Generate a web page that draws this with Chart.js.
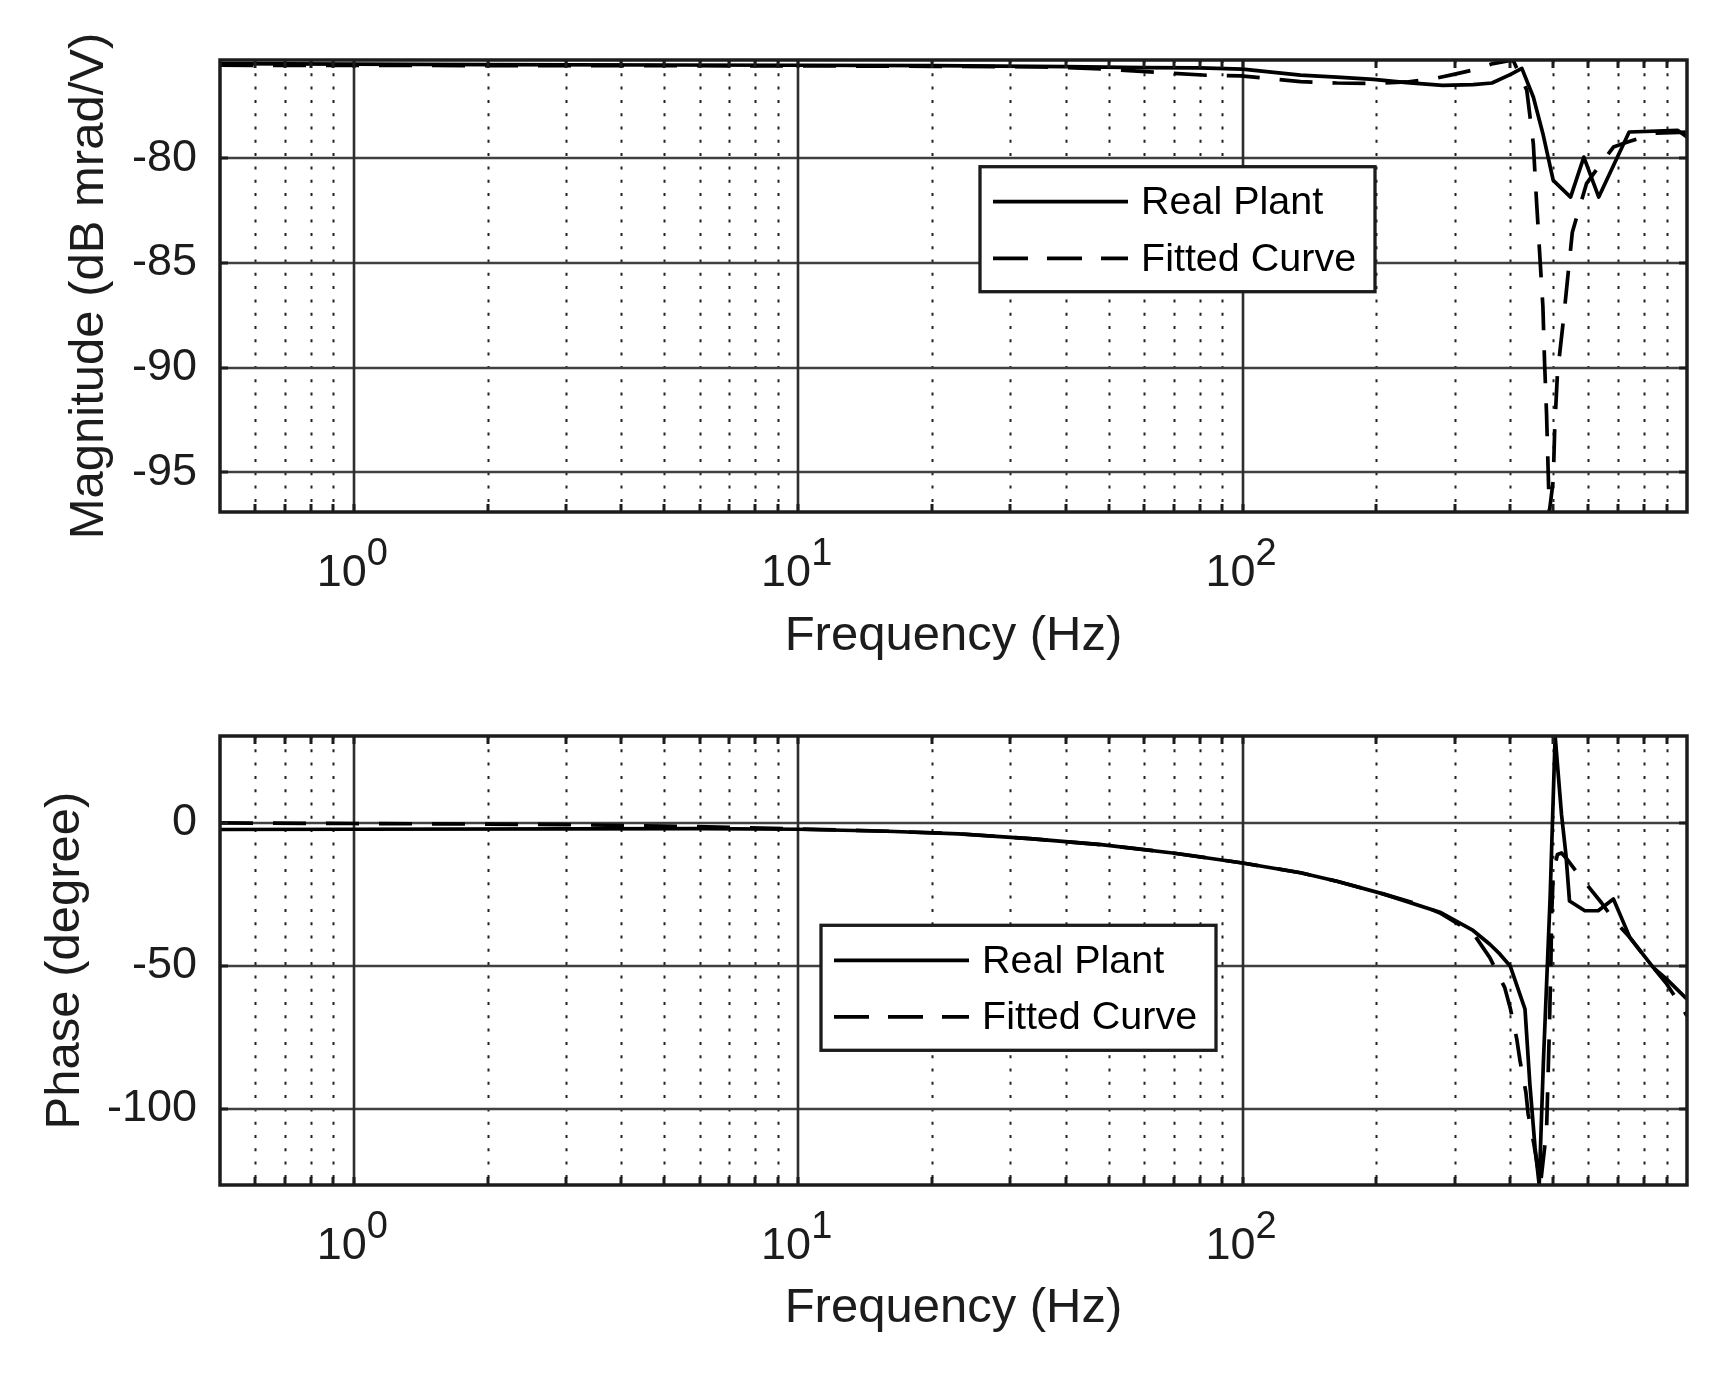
<!DOCTYPE html>
<html><head><meta charset="utf-8">
<script src="https://cdn.jsdelivr.net/npm/chart.js@4.4.1/dist/chart.umd.min.js"></script>
<style>
html,body{margin:0;padding:0;background:#fff;}
body{width:1717px;height:1377px;position:relative;overflow:hidden;}
canvas{position:absolute;left:0;}
#c1{top:0;} #c2{top:670px;}
</style></head><body>
<canvas id="c1" width="1717" height="670"></canvas>
<canvas id="c2" width="1717" height="707"></canvas>
<script>
// ---------- DATA ----------
const seriesNames = ['Real Plant', 'Fitted Curve'];

const magFreqReal = [0.5, 1, 2, 5, 10, 20, 40, 60, 80, 100, 135, 163, 197, 234, 282, 330, 364, 400, 425, 451, 474, 500, 547, 586, 633, 741, 952, 1000];
const magReal     = [-75.47, -75.5, -75.52, -75.54, -75.55, -75.57, -75.62, -75.66, -75.68, -75.74, -76.02, -76.12, -76.23, -76.38, -76.51, -76.48, -76.4, -76.0, -75.7, -77.07, -78.82, -81.05, -81.85, -79.94, -81.85, -78.74, -78.66, -78.98];

const magFreqFit = [0.5, 1, 3, 10, 20, 35, 48, 64, 83, 99, 135, 163, 197, 234, 268, 297, 330, 366, 406, 436, 451, 458, 466, 474, 478, 483, 490, 500, 504, 511, 527, 552, 594, 636, 683, 735, 850, 1000];
const magFit     = [-75.55, -75.56, -75.57, -75.58, -75.6, -75.63, -75.72, -75.89, -76.03, -76.06, -76.33, -76.4, -76.42, -76.35, -76.2, -76.0, -75.78, -75.47, -75.3, -76.75, -79.3, -81.85, -84.5, -87.1, -89.7, -92.2, -96.9, -95.4, -92.86, -90.3, -87.75, -83.53, -81.21, -80.33, -79.46, -79.22, -78.8, -78.75];

const phFreqReal = [0.5, 1, 3, 6, 10, 15.9, 23, 33.2, 48.1, 69.6, 100, 135, 163, 207, 278, 330, 360, 379, 400, 432, 443, 455, 465, 475, 492, 505, 522, 534, 544, 589, 631, 683, 744, 840, 900, 1000];
const phReal     = [-2.3, -2.2, -2.1, -2.0, -2.2, -2.9, -3.8, -5.5, -7.6, -10.5, -14.0, -17.4, -20.4, -24.8, -31.2, -37.6, -42.4, -45.8, -50.0, -65.1, -91.3, -113.4, -126.6, -84.3, -26.2, 30.4, 2.9, -11.0, -27.3, -30.7, -30.7, -26.6, -40.1, -50.6, -54.6, -61.6];

const phFreqFit = [0.5, 1, 2, 3, 5, 7, 10, 15.9, 23, 33.2, 48.1, 69.6, 100, 135, 163, 207, 250, 278, 330, 360, 389, 400, 414, 421, 434, 439, 452, 468, 483, 490, 494, 496, 500, 511, 522, 538, 574, 642, 683, 744, 840, 900, 965, 1000];
const phFit     = [0, -0.2, -0.4, -0.6, -1.1, -1.5, -2.1, -2.9, -3.8, -5.5, -7.6, -10.5, -14.0, -17.4, -20.4, -24.8, -28.5, -31.5, -38.5, -47.1, -57.6, -64.6, -75.6, -83.2, -94.2, -101.7, -112, -126.4, -107.6, -72.7, -49.4, -32, -18.0, -11.0, -10.5, -12.8, -18.6, -27.9, -33.7, -40.1, -50.6, -56.3, -63.4, -67.5];

const xTickValues = [1, 10, 100];
const xTickLabels = ['10^0', '10^1', '10^2'];
const xMinorTicks = [0.6, 0.7, 0.8, 0.9, 2, 3, 4, 5, 6, 7, 8, 9, 20, 30, 40, 50, 60, 70, 80, 90, 200, 300, 400, 500, 600, 700, 800, 900];
const magTicks = [-95, -90, -85, -80];
const magTickLabels = ['-95', '-90', '-85', '-80'];
const phTicks = [-100, -50, 0];
const phTickLabels = ['-100', '-50', '0'];

// ---------- STYLE / HELPERS ----------
const FONT = "'Liberation Sans', Arial, Helvetica, sans-serif";
const INK = '#1c1c1c';
const LW = 3.7;

function pts(xs, ys) { return xs.map((v, i) => ({x: v, y: ys[i]})); }

function bodePlugin(legendPos) {
  return {
    id: 'bode',
    beforeDatasetsDraw(chart) {
      const {ctx, chartArea: a, scales: {x, y}} = chart;
      ctx.save();
      ctx.beginPath(); ctx.rect(a.left, a.top, a.right - a.left, a.bottom - a.top); ctx.clip();
      ctx.strokeStyle = '#222'; ctx.lineWidth = 2; ctx.setLineDash([3, 10.3]);
      for (const v of xMinorTicks) {
        const px = Math.round(x.getPixelForValue(v)) + 0.5;
        ctx.beginPath(); ctx.moveTo(px, a.top); ctx.lineTo(px, a.bottom); ctx.stroke();
      }
      ctx.setLineDash([]);
      ctx.strokeStyle = '#404040'; ctx.lineWidth = 2.4;
      for (const t of y.ticks) {
        const py = Math.round(y.getPixelForValue(t.value));
        ctx.beginPath(); ctx.moveTo(a.left, py); ctx.lineTo(a.right, py); ctx.stroke();
      }
      ctx.strokeStyle = '#2e2e2e'; ctx.lineWidth = 2.6;
      for (const v of xTickValues) {
        const px = Math.round(x.getPixelForValue(v));
        ctx.beginPath(); ctx.moveTo(px, a.top); ctx.lineTo(px, a.bottom); ctx.stroke();
      }
      ctx.restore();
    },
    afterDatasetsDraw(chart) {
      const {ctx, chartArea: a, scales: {x, y}} = chart;
      ctx.save();
      ctx.strokeStyle = INK; ctx.lineWidth = 3;
      const tl = 8;
      for (const v of xTickValues.concat(xMinorTicks)) {
        const px = Math.round(x.getPixelForValue(v));
        ctx.beginPath();
        ctx.moveTo(px, a.bottom); ctx.lineTo(px, a.bottom - tl);
        ctx.moveTo(px, a.top); ctx.lineTo(px, a.top + tl);
        ctx.stroke();
      }
      for (const t of y.ticks) {
        const py = Math.round(y.getPixelForValue(t.value));
        ctx.beginPath();
        ctx.moveTo(a.left, py); ctx.lineTo(a.left + tl, py);
        ctx.moveTo(a.right, py); ctx.lineTo(a.right - tl, py);
        ctx.stroke();
      }
      ctx.lineWidth = 3.5;
      ctx.strokeRect(a.left, a.top, a.right - a.left, a.bottom - a.top);

      // legend
      const L = legendPos.left, T = legendPos.top, W = 395, H = 125;
      ctx.fillStyle = '#fff';
      ctx.fillRect(L, T, W, H);
      ctx.lineWidth = 3.3; ctx.strokeStyle = INK;
      ctx.strokeRect(L, T, W, H);
      const rows = [T + 35, T + 91.6];
      chart.data.datasets.forEach((ds, i) => {
        ctx.strokeStyle = '#000'; ctx.lineWidth = LW;
        ctx.setLineDash(ds.borderDash && ds.borderDash.length ? [35, 19] : []);
        ctx.beginPath(); ctx.moveTo(L + 13, rows[i]); ctx.lineTo(L + 148, rows[i]); ctx.stroke();
        ctx.setLineDash([]);
        ctx.fillStyle = '#000';
        ctx.font = `39.5px ${FONT}`;
        ctx.textBaseline = 'middle'; ctx.textAlign = 'left';
        ctx.fillText(ds.label, L + 161, rows[i] + 1.5);
      });
      ctx.restore();
    },
    afterDraw(chart) {
      const {ctx, chartArea: a, scales: {x}} = chart;
      ctx.save();
      ctx.fillStyle = INK; ctx.textBaseline = 'alphabetic'; ctx.textAlign = 'left';
      xTickValues.forEach((v, i) => {
        const [base, exp] = xTickLabels[i].split('^');
        const px = x.getPixelForValue(v);
        ctx.font = `45px ${FONT}`; const mw = ctx.measureText(base).width;
        ctx.font = `38px ${FONT}`; const sw = ctx.measureText(exp).width;
        const x0 = px - (mw + sw) / 2 - 1.5;
        const bl = a.bottom + 73.5;
        ctx.font = `45px ${FONT}`; ctx.fillText(base, x0, bl);
        ctx.font = `38px ${FONT}`; ctx.fillText(exp, x0 + mw, bl - 21);
      });
      ctx.restore();
    }
  };
}

function makeChart(id, cfg) {
  return new Chart(document.getElementById(id), {
    type: 'line',
    data: {
      datasets: [
        {label: seriesNames[0], data: pts(cfg.fr, cfg.vr), borderColor: '#000', borderWidth: LW, pointRadius: 0, tension: 0, borderJoinStyle: 'round', fill: false},
        {label: seriesNames[1], data: pts(cfg.ff, cfg.vf), borderColor: '#000', borderWidth: LW, pointRadius: 0, tension: 0, borderDash: [33, 20], borderJoinStyle: 'round', fill: false}
      ]
    },
    options: {
      responsive: false, animation: false, devicePixelRatio: 1, events: [],
      parsing: true,
      layout: {padding: {left: 0, right: 30, top: cfg.padTop, bottom: 0}},
      plugins: {legend: {display: false}, tooltip: {enabled: false}},
      scales: {
        x: {
          type: 'logarithmic', min: 0.5, max: 1000,
          grid: {display: false}, border: {display: false},
          ticks: {display: false},
          afterBuildTicks: (s) => { s.ticks = xTickValues.map(v => ({value: v})); },
          afterFit: (s) => { s.height = cfg.xHeight; },
          title: {display: true, text: 'Frequency (Hz)', color: INK,
                  font: {family: FONT, size: 49, lineHeight: 1.2},
                  padding: {top: 0, bottom: cfg.xTitlePad}}
        },
        y: {
          type: 'linear', min: cfg.ymin, max: cfg.ymax,
          grid: {display: false, drawTicks: false}, border: {display: false},
          afterBuildTicks: (s) => { s.ticks = cfg.ticks.map(v => ({value: v})); },
          afterFit: (s) => { s.width = 220; },
          ticks: {color: INK, padding: 23, font: {family: FONT, size: 45},
                  callback: (v) => { const k = cfg.ticks.indexOf(v); return k >= 0 ? cfg.tickLabels[k] : ''; }},
          title: {display: true, text: cfg.ytitle, color: INK,
                  font: {family: FONT, size: 49, lineHeight: 1.2},
                  padding: {top: cfg.yTitlePad, bottom: 0}}
        }
      }
    },
    plugins: [bodePlugin(cfg.legend)]
  });
}

makeChart('c1', {
  fr: magFreqReal, vr: magReal, ff: magFreqFit, vf: magFit,
  ymin: -96.9, ymax: -75.3, ticks: magTicks, tickLabels: magTickLabels,
  ytitle: 'Magnitude (dB mrad/V)', padTop: 60, xHeight: 158, xTitlePad: 4.6, yTitlePad: 59.6,
  legend: {left: 980, top: 166.7}
});
makeChart('c2', {
  fr: phFreqReal, vr: phReal, ff: phFreqFit, vf: phFit,
  ymin: -126.6, ymax: 30.4, ticks: phTicks, tickLabels: phTickLabels,
  ytitle: 'Phase (degree)', padTop: 66, xHeight: 192, xTitlePad: 39, yTitlePad: 35.6,
  legend: {left: 821, top: 255.3}
});
</script>
</body></html>
